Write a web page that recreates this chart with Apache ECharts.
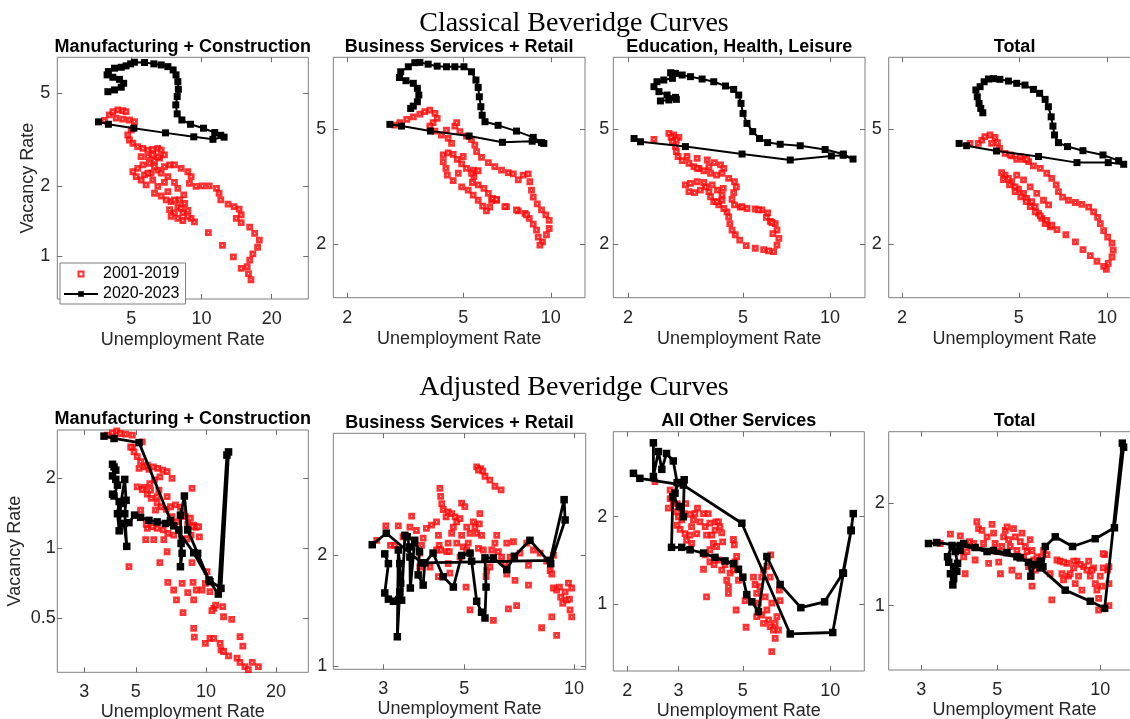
<!DOCTYPE html>
<html>
<head>
<meta charset="utf-8">
<script src="https://cdn.jsdelivr.net/npm/echarts@6.0.0/dist/echarts.min.js"></script>
<style>
  html, body { margin: 0; padding: 0; background: #fff; }
  #chart { width: 1130px; height: 719px; }
</style>
</head>
<body>
<div id="chart"></div>
<script>
// ---- data: [unemployment rate, vacancy rate] ----

// Classical, Manufacturing + Construction
const classicMcPre = [[3.84,3.82],[4.03,4.04],[4.17,4.17],[4.38,4.24],[4.60,4.21],[4.75,4.17],[4.31,3.91],[4.60,3.87],[4.91,3.84],[5.16,3.78],[5.00,3.48],[4.83,3.31],[4.91,3.15],[5.08,3.05],[5.33,2.95],[5.61,2.90],[5.89,2.85],[6.18,2.87],[6.50,2.90],[6.72,2.85],[6.94,2.72],[6.61,2.63],[6.29,2.57],[5.98,2.50],[5.61,2.46],[5.33,2.38],[5.08,2.30],[5.25,2.19],[5.51,2.12],[5.79,2.02],[5.70,2.23],[6.08,2.27],[6.50,2.34],[6.94,2.42],[7.30,2.46],[7.66,2.46],[8.18,2.38],[8.74,2.30],[9.03,2.19],[8.88,2.05],[9.48,1.99],[10.1,2.00],[10.8,2.00],[11.6,1.95],[11.9,1.86],[12.1,1.74],[13.0,1.67],[13.8,1.63],[14.5,1.59],[14.8,1.50],[14.1,1.45],[14.8,1.39],[16.1,1.33],[16.9,1.25],[17.7,1.17],[17.4,1.09],[16.6,1.02],[16.1,0.96],[15.7,0.90],[15.9,0.84],[16.3,0.79],[14.8,0.885],[13.7,0.99],[12.3,1.11],[10.7,1.26],[9.33,1.40],[9.03,1.45],[8.74,1.57],[8.32,1.53],[7.92,1.63],[7.66,1.53],[7.30,1.58],[7.41,1.71],[7.06,1.74],[6.72,1.81],[6.29,1.86],[6.50,1.99],[7.18,1.89],[7.41,1.48],[7.92,1.45],[8.32,1.42],[6.94,2.07],[6.18,2.12],[5.89,2.27],[6.29,2.42],[6.72,2.27],[7.18,2.19],[7.66,2.07],[7.92,1.95],[8.40,1.83],[8.47,1.68],[8.05,1.74],[7.66,1.74],[8.18,1.60],[8.74,1.48],[5.89,2.67],[6.18,2.72],[5.51,2.67],[6.50,2.67]];
const classicMcPost = [[3.62,3.77],[3.99,3.68],[5.13,3.54],[7.01,3.38],[9.27,3.25],[11.2,3.17],[12.5,3.24],[12.1,3.30],[11.4,3.39],[10.2,3.54],[8.97,3.68],[8.24,3.84],[7.87,4.08],[7.76,4.46],[7.87,4.84],[7.96,5.20],[7.92,5.61],[7.78,6.00],[7.56,6.30],[7.18,6.51],[6.72,6.62],[6.25,6.69],[5.70,6.78],[5.16,6.80],[4.97,6.69],[4.75,6.56],[4.53,6.47],[4.24,6.41],[3.99,6.20],[3.94,6.00],[4.17,5.86],[4.45,5.74],[4.64,5.52],[4.53,5.31],[4.24,5.17],[3.97,5.08]];

// Classical, Business Services + Retail
const classicBsPre = [[2.91,5.16],[3.03,5.26],[3.20,5.40],[3.37,5.51],[3.55,5.63],[3.69,5.74],[3.84,5.81],[4.00,5.66],[4.07,5.44],[3.94,5.26],[3.84,5.12],[4.00,4.92],[4.21,4.77],[4.44,4.64],[4.56,4.46],[4.38,4.96],[4.68,5.12],[4.75,5.26],[4.87,4.90],[5.13,4.73],[5.34,4.60],[5.48,4.40],[5.56,4.18],[5.78,3.99],[6.10,3.83],[6.42,3.71],[6.77,3.61],[7.14,3.54],[7.43,3.50],[7.73,3.34],[8.03,3.47],[8.36,3.50],[8.47,3.29],[8.58,3.08],[8.70,2.91],[8.98,2.76],[9.29,2.63],[9.61,2.53],[9.87,2.42],[9.87,2.27],[9.66,2.16],[9.36,2.04],[9.17,1.99],[9.05,2.12],[8.93,2.24],[8.70,2.35],[8.43,2.46],[8.15,2.56],[7.73,2.61],[7.04,2.70],[6.51,2.84],[6.26,2.84],[6.17,2.69],[6.01,2.61],[5.83,2.71],[5.63,2.84],[5.41,2.96],[5.20,3.08],[4.94,3.16],[4.62,3.32],[4.41,3.47],[4.36,3.66],[4.27,3.86],[4.27,4.07],[4.44,4.14],[4.62,4.09],[4.77,3.93],[4.94,3.79],[5.13,3.66],[5.41,3.61],[5.63,3.59],[5.44,3.43],[5.38,3.27],[5.63,3.21],[5.89,3.12],[6.10,3.00],[6.31,2.88],[6.51,2.86],[6.95,2.70],[7.62,2.63],[8.25,2.53],[5.00,4.02],[5.34,3.52],[4.81,3.52]];
const classicBsPost = [[2.80,5.19],[3.07,5.12],[3.86,4.92],[5.24,4.73],[6.82,4.50],[8.63,4.54],[9.46,4.46],[9.29,4.49],[8.70,4.68],[7.62,4.92],[6.59,5.15],[5.94,5.30],[5.81,5.58],[5.75,5.97],[5.68,6.46],[5.63,6.96],[5.53,7.38],[5.34,7.88],[5.03,8.20],[4.68,8.20],[4.38,8.20],[4.07,8.24],[3.79,8.37],[3.55,8.49],[3.41,8.47],[3.24,8.20],[3.05,7.88],[3.02,7.53],[3.18,7.34],[3.37,7.19],[3.48,6.91],[3.52,6.55],[3.48,6.21],[3.37,6.00],[3.30,5.89]];

// Classical, Education, Health, Leisure
const classicEhlPre = [[2.46,4.61],[2.77,4.83],[2.88,4.77],[3.00,4.68],[2.94,4.58],[2.82,4.68],[2.85,4.52],[2.92,4.35],[2.94,4.18],[2.98,4.02],[3.08,3.89],[3.25,3.81],[3.38,3.71],[3.52,3.66],[3.66,3.59],[3.20,4.02],[3.47,3.96],[3.76,3.91],[3.98,3.83],[4.18,3.76],[4.29,3.66],[4.23,3.52],[4.05,3.47],[3.86,3.52],[4.46,3.38],[4.67,3.29],[4.74,3.16],[4.64,3.02],[4.58,2.86],[4.67,2.74],[4.89,2.69],[5.16,2.66],[5.51,2.65],[5.81,2.63],[6.08,2.57],[6.02,2.48],[6.21,2.40],[6.46,2.36],[6.55,2.24],[6.65,2.10],[6.55,1.99],[6.38,1.89],[6.13,1.90],[5.89,1.92],[5.51,1.94],[5.13,1.98],[4.87,2.07],[4.70,2.16],[4.58,2.24],[4.50,2.36],[4.46,2.49],[4.40,2.59],[4.29,2.66],[4.12,2.74],[3.96,2.81],[3.86,2.92],[3.81,3.04],[3.71,3.16],[3.56,3.08],[3.40,3.02],[3.25,3.04],[3.16,3.21],[3.29,3.25],[3.47,3.29],[3.66,3.27],[3.91,3.21],[4.08,3.08],[4.23,2.96],[4.23,2.84],[4.06,2.81],[4.27,3.12],[4.96,2.70],[5.66,2.63],[6.29,2.38],[6.34,2.18],[3.47,3.66],[3.81,3.71]];
const classicEhlPost = [[2.10,4.64],[2.21,4.52],[3.16,4.35],[4.96,4.10],[7.28,3.91],[10.1,4.04],[11.1,4.06],[12.0,3.94],[11.1,4.10],[9.61,4.25],[7.88,4.38],[6.72,4.43],[6.08,4.49],[5.70,4.64],[5.40,4.90],[5.16,5.23],[5.00,5.66],[4.92,6.13],[4.83,6.55],[4.64,6.85],[4.35,7.04],[3.96,7.28],[3.61,7.44],[3.29,7.58],[3.08,7.68],[2.92,7.78],[2.81,7.82],[2.85,7.48],[2.66,7.38],[2.52,7.28],[2.46,7.00],[2.56,6.73],[2.73,6.55],[2.92,6.43],[2.94,6.33],[2.77,6.30],[2.59,6.25]];

// Classical, Total
const classicTotPre = [[3.41,4.46],[3.64,4.46],[3.74,4.58],[3.83,4.71],[3.99,4.77],[4.15,4.68],[4.23,4.49],[4.30,4.29],[4.04,4.46],[4.49,4.12],[4.73,4.04],[4.92,3.93],[5.19,3.93],[5.40,3.86],[5.61,3.73],[5.92,3.66],[6.23,3.52],[6.48,3.38],[6.71,3.21],[6.83,3.04],[7.05,2.91],[7.39,2.84],[7.80,2.79],[8.21,2.75],[8.66,2.69],[9.00,2.59],[9.29,2.48],[9.49,2.36],[9.74,2.23],[10.05,2.12],[10.4,2.02],[10.5,1.91],[10.4,1.81],[10.1,1.72],[9.95,1.64],[9.74,1.68],[9.24,1.75],[8.77,1.83],[8.28,1.92],[7.80,2.04],[7.24,2.16],[6.75,2.25],[6.40,2.30],[6.15,2.36],[5.99,2.46],[5.84,2.56],[5.69,2.70],[5.54,2.81],[5.32,2.88],[5.19,3.00],[4.99,3.10],[4.86,3.16],[4.73,3.29],[4.61,3.38],[4.49,3.47],[4.37,3.54],[4.43,3.35],[4.65,3.21],[4.86,3.04],[5.08,2.92],[5.30,2.81],[5.47,2.70],[5.69,2.59],[5.92,2.51],[6.23,2.42],[6.48,2.33],[4.67,4.07],[5.05,4.02],[5.32,3.93],[4.92,3.47],[5.19,3.34],[5.47,3.16],[5.76,3.00],[6.07,2.84],[6.32,2.74]];
const classicTotPost = [[3.13,4.46],[3.32,4.38],[4.20,4.20],[5.84,4.02],[7.90,3.83],[10.1,3.83],[11.4,3.78],[10.96,3.89],[9.69,4.07],[8.28,4.21],[7.33,4.35],[6.83,4.49],[6.62,4.77],[6.54,5.12],[6.45,5.51],[6.31,5.97],[6.15,6.33],[5.89,6.64],[5.61,6.85],[5.25,7.09],[4.92,7.19],[4.61,7.32],[4.31,7.42],[4.10,7.46],[3.94,7.44],[3.81,7.28],[3.69,7.00],[3.57,6.82],[3.61,6.46],[3.66,6.13],[3.71,5.89],[3.77,5.69]];

// Adjusted, Manufacturing + Construction
const adjMcPre = [[3.78,3.07],[3.97,3.14],[4.14,3.20],[4.28,3.12],[4.52,3.10],[4.83,3.07],[5.33,2.87],[4.83,2.72],[4.91,2.60],[5.07,2.48],[5.24,2.36],[5.45,2.24],[5.69,2.19],[5.94,2.24],[6.21,2.21],[6.53,2.17],[6.81,2.14],[7.15,2.00],[6.34,2.03],[6.01,1.97],[5.74,1.90],[5.42,1.83],[5.07,1.84],[5.33,1.79],[5.60,1.71],[5.82,1.64],[6.17,1.57],[6.42,1.51],[6.75,1.47],[7.04,1.51],[7.40,1.54],[7.77,1.50],[7.97,1.44],[8.16,1.37],[8.57,1.35],[8.35,1.27],[8.86,1.26],[9.06,1.23],[9.37,1.12],[8.63,1.14],[8.29,1.10],[7.90,1.09],[7.27,1.14],[6.86,1.16],[6.55,1.20],[6.17,1.22],[5.88,1.24],[5.60,1.22],[5.24,1.46],[5.54,1.27],[5.51,1.09],[5.97,1.09],[6.59,1.09],[6.81,0.967],[6.34,0.868],[6.86,0.714],[7.27,0.662],[7.47,0.60],[7.90,0.707],[8.35,0.645],[7.97,0.529],[8.86,0.60],[8.71,0.868],[8.80,0.714],[9.09,0.662],[9.62,0.662],[10.1,0.794],[9.94,0.707],[10.4,0.651],[10.8,0.552],[11.0,0.57],[10.6,0.54],[11.8,0.562],[11.9,0.508],[12.9,0.495],[8.86,0.453],[8.91,0.415],[9.94,0.39],[10.4,0.41],[10.8,0.41],[11.5,0.39],[11.6,0.366],[11.9,0.36],[12.5,0.345],[13.6,0.337],[14.0,0.323],[14.7,0.31],[15.2,0.301],[15.8,0.323],[16.8,0.31],[14.0,0.417],[14.4,0.38],[4.67,0.834],[5.16,2.21],[5.60,2.28],[4.75,2.73],[5.78,1.78],[6.28,1.78],[6.07,1.46],[7.15,1.37],[7.52,1.30],[8.71,1.24],[8.71,1.81],[9.30,1.24],[6.81,1.67],[6.17,1.67]];
const adjMcPost = [[3.65,3.04],[4.03,2.97],[5.16,2.85],[7.04,1.32],[8.86,0.958],[10.4,0.719],[11.3,0.636],[12.3,2.52],[12.5,2.60],[11.6,0.673],[10.3,0.731],[9.21,0.952],[8.35,1.20],[8.08,1.68],[7.77,1.39],[7.82,1.05],[7.77,0.834],[7.90,0.952],[7.64,1.20],[7.27,1.25],[6.70,1.28],[6.17,1.30],[5.69,1.32],[5.24,1.36],[4.94,1.39],[4.67,1.29],[4.45,1.28],[4.57,1.02],[4.48,1.41],[4.54,1.61],[4.48,1.98],[4.31,1.56],[4.24,1.19],[4.17,1.41],[4.24,1.59],[4.03,1.68],[3.97,1.71],[4.17,1.87],[4.10,1.98],[3.97,2.05],[4.10,2.17],[4.03,2.24],[3.97,2.30]];

// Adjusted, Business Services + Retail
const adjBsPre = [[2.88,2.20],[3.05,2.41],[3.14,2.13],[3.30,2.41],[3.23,2.13],[3.40,2.25],[3.59,2.56],[3.70,2.34],[3.78,2.03],[3.82,2.13],[3.78,1.86],[3.86,2.23],[3.94,2.37],[4.03,1.86],[4.07,2.42],[4.20,2.47],[4.25,2.27],[4.27,2.13],[4.31,2.07],[4.25,1.75],[4.29,3.05],[4.31,2.90],[4.34,2.77],[4.38,2.67],[4.46,2.55],[4.52,2.63],[4.62,2.60],[4.72,2.55],[4.77,2.47],[4.67,2.39],[4.62,2.30],[4.52,2.16],[4.48,2.05],[4.52,1.90],[4.57,1.79],[4.87,2.52],[4.92,2.78],[5.02,2.72],[5.08,2.39],[5.19,2.30],[5.13,2.16],[4.97,2.11],[4.92,2.27],[4.87,1.98],[5.06,1.64],[5.19,1.42],[5.30,2.47],[5.35,2.39],[5.41,2.30],[5.50,2.44],[5.52,2.60],[5.58,2.27],[5.47,2.09],[5.64,2.07],[5.76,1.82],[5.74,1.75],[5.88,1.86],[5.95,2.07],[6.07,2.16],[6.14,2.27],[6.01,1.33],[6.20,2.05],[6.33,1.98],[6.47,1.90],[6.54,1.78],[6.68,1.98],[6.89,1.71],[6.61,1.43],[6.96,1.46],[7.11,2.03],[7.42,2.16],[7.50,1.88],[7.50,1.66],[7.74,2.07],[8.07,2.03],[8.15,1.27],[8.41,1.93],[8.60,1.82],[8.69,1.78],[8.78,1.63],[8.96,1.61],[9.12,1.64],[9.19,1.54],[9.31,1.48],[9.45,1.59],[9.65,1.68],[9.85,1.63],[9.75,1.42],[9.55,1.51],[8.96,1.21],[8.69,1.36],[9.71,1.52],[9.85,1.36],[8.78,2.00],[5.41,3.49],[5.55,3.45],[5.70,3.29],[5.88,3.21],[6.07,3.09],[6.31,3.02],[5.62,3.40],[5.47,3.42],[4.55,2.05],[4.77,2.16],[5.08,2.07],[4.20,2.07],[6.82,2.18],[6.54,2.16],[3.55,2.39]];
const adjBsPost = [[2.80,2.14],[3.06,2.30],[3.82,1.91],[8.60,1.94],[9.39,2.84],[9.45,2.50],[8.63,1.90],[7.57,2.20],[6.86,1.99],[6.54,1.83],[6.01,1.97],[5.70,1.97],[5.74,1.64],[5.70,1.35],[5.58,1.40],[5.41,1.50],[5.24,1.93],[5.19,2.03],[4.92,2.00],[4.67,1.64],[4.38,1.75],[4.11,2.03],[3.90,1.91],[3.86,1.66],[3.74,1.77],[3.77,2.05],[3.66,2.20],[3.56,1.63],[3.55,1.98],[3.54,2.11],[3.49,2.25],[3.44,2.27],[3.37,1.51],[3.35,1.68],[3.33,1.90],[3.30,2.07],[3.28,1.20],[3.33,1.59],[3.20,1.50],[3.10,1.52],[3.03,1.58],[3.10,1.90],[3.03,2.02]];

// Adjusted, All Other Services
const adjOthPre = [[2.49,2.64],[2.81,2.31],[2.77,2.14],[2.81,2.47],[2.88,2.25],[2.97,2.22],[2.97,2.08],[3.00,2.00],[2.97,1.87],[3.04,1.81],[3.08,1.95],[3.14,2.05],[3.18,2.22],[3.16,1.75],[3.20,1.66],[3.29,1.73],[3.33,1.85],[3.38,1.95],[3.42,2.05],[3.49,2.14],[3.29,2.04],[3.33,1.62],[3.47,1.75],[3.56,1.92],[3.66,2.05],[3.71,1.85],[3.75,1.73],[3.80,2.05],[3.85,1.90],[3.91,1.73],[3.96,1.62],[4.01,1.80],[4.04,1.92],[4.12,1.92],[4.17,1.85],[4.23,1.76],[4.26,1.64],[4.06,1.58],[3.85,1.54],[3.71,1.48],[3.66,1.32],[3.75,1.06],[3.85,1.40],[3.98,1.37],[4.12,1.42],[4.23,1.31],[4.34,1.37],[4.40,1.21],[4.46,1.15],[4.46,1.09],[4.52,1.28],[4.64,1.31],[4.70,1.40],[4.76,1.46],[4.67,1.60],[4.64,1.67],[4.83,1.21],[4.74,0.956],[5.09,1.03],[5.13,0.834],[5.44,1.24],[5.51,1.17],[5.58,1.09],[5.66,1.01],[5.73,1.15],[5.81,1.24],[5.89,1.31],[6.05,1.35],[6.24,1.48],[5.97,1.06],[6.05,0.956],[6.13,0.884],[6.21,0.838],[6.46,0.86],[6.55,0.907],[6.29,1.01],[5.89,0.86],[5.81,0.919],[6.37,0.816],[6.29,0.688],[6.46,0.764],[6.63,0.816],[6.72,1.03],[6.68,1.12],[6.21,1.24],[5.58,0.907]];
const adjOthPost = [[2.10,2.82],[2.21,2.71],[3.12,2.57],[4.96,1.90],[7.28,0.791],[10.2,0.80],[11.1,1.28],[11.8,1.79],[12.0,2.05],[11.8,1.80],[11.05,1.28],[9.56,1.02],[7.92,0.974],[6.72,1.17],[6.05,1.46],[5.66,0.944],[5.37,1.02],[5.16,1.08],[5.00,1.24],[4.83,1.32],[4.64,1.38],[4.34,1.41],[4.01,1.45],[3.66,1.50],[3.29,1.54],[3.08,1.57],[2.84,1.57],[2.87,2.34],[3.02,2.17],[3.12,2.00],[3.14,2.68],[3.00,2.62],[2.92,2.41],[2.97,2.62],[2.88,3.11],[2.73,3.30],[2.63,2.91],[2.56,3.35],[2.46,2.75],[2.46,3.59]];

// Adjusted, Total
const adjTotPre = [[3.41,1.52],[3.65,1.62],[3.81,1.49],[3.90,1.60],[3.99,1.39],[4.03,1.24],[4.08,1.44],[4.15,1.54],[4.27,1.52],[4.31,1.36],[4.36,1.76],[4.41,1.68],[4.51,1.66],[4.56,1.52],[4.67,1.59],[4.72,1.33],[4.83,1.73],[4.88,1.63],[4.93,1.52],[4.99,1.44],[5.05,1.34],[5.11,1.24],[5.16,1.49],[5.22,1.59],[5.28,1.66],[5.34,1.70],[5.40,1.56],[5.46,1.49],[5.52,1.27],[5.58,1.68],[5.65,1.59],[5.71,1.45],[5.77,1.22],[5.84,1.54],[5.91,1.63],[5.97,1.39],[6.04,1.49],[6.11,1.44],[6.17,1.30],[6.24,1.56],[6.32,1.45],[6.39,1.36],[6.46,1.27],[6.53,1.39],[6.32,1.14],[6.75,1.39],[6.83,1.45],[6.99,1.41],[7.14,1.24],[7.22,1.04],[7.47,1.36],[7.64,1.35],[7.73,1.24],[7.81,1.19],[7.99,1.33],[8.08,1.22],[8.17,1.24],[8.36,1.29],[8.45,1.16],[8.55,1.35],[8.64,1.22],[8.84,1.11],[8.94,1.30],[9.14,1.27],[9.35,1.22],[9.56,1.29],[9.67,1.16],[9.78,1.11],[9.89,1.05],[10.0,1.22],[10.1,1.14],[10.3,1.41],[10.5,1.27],[10.6,1.16],[10.6,1.00],[9.89,0.971],[9.46,1.27],[10.2,1.29],[9.25,1.35],[8.74,1.32],[8.36,1.35],[7.81,1.34],[10.2,1.42],[10.6,1.30]];
const adjTotPost = [[3.15,1.52],[3.33,1.53],[3.90,1.50],[4.67,1.44],[5.71,1.39],[6.68,1.29],[7.90,1.11],[9.35,1.03],[10.3,0.982],[11.6,2.99],[11.7,2.91],[11.0,1.69],[9.67,1.57],[8.30,1.49],[7.39,1.59],[6.91,1.49],[6.80,1.30],[6.68,1.35],[6.42,1.32],[6.27,1.22],[6.17,1.34],[5.84,1.38],[5.34,1.43],[4.88,1.45],[4.31,1.48],[3.99,1.52],[3.69,1.50],[3.58,1.39],[3.61,1.34],[3.73,1.30],[3.65,1.24],[3.73,1.20],[3.71,1.15],[3.81,1.26],[3.83,1.33],[3.77,1.44],[3.90,1.45]];

// tick labels
const xTicksClassicMc = [5, 10, 20];
const xTicksClassic = [2, 5, 10];
const yTicksClassicMc = [1, 2, 5];
const yTicksClassic = [2, 5];
const xTicksAdjMc = [3, 5, 10, 20];
const xTicksAdjBs = [3, 5, 10];
const xTicksAdjOth = [2, 3, 5, 10];
const xTicksAdjTot = [3, 5, 10];
const yTicksAdjMc = [0.5, 1, 2];
const yTicksAdj = [1, 2];

const seriesNames = ['2001-2019', '2020-2023'];
const rowTitles = ['Classical Beveridge Curves', 'Adjusted Beveridge Curves'];

// ---- layout ----
const panels = [
  { title: 'Manufacturing + Construction', pre: classicMcPre, post: classicMcPost, xLim: [2.41, 28.7], yLim: [0.653, 7.14], xTicks: xTicksClassicMc, yTicks: yTicksClassicMc, box: [57.3, 57.3, 251, 241.7], yMargin: 7, yName: 'Vacancy Rate', yNameGap: 20, row: 0 },
  { title: 'Business Services + Retail', pre: classicBsPre, post: classicBsPost, xLim: [1.79, 13.1], yLim: [1.31, 8.84], xTicks: xTicksClassic, yTicks: yTicksClassic, box: [333.3, 57.3, 251.7, 240.4], yMargin: 7, row: 0 },
  { title: 'Education, Health, Leisure', pre: classicEhlPre, post: classicEhlPost, xLim: [1.78, 13.2], yLim: [1.31, 8.84], xTicks: xTicksClassic, yTicks: yTicksClassic, box: [613.3, 57.3, 251.7, 240.4], yMargin: 4, row: 0 },
  { title: 'Total', pre: classicTotPre, post: classicTotPost, xLim: [1.80, 13.0], yLim: [1.31, 8.84], xTicks: xTicksClassic, yTicks: yTicksClassic, box: [888.7, 57.3, 251.7, 240.4], yMargin: 7, row: 0 },
  { title: 'Manufacturing + Construction', pre: adjMcPre, post: adjMcPost, xLim: [2.30, 27.5], yLim: [0.293, 3.23], xTicks: xTicksAdjMc, yTicks: yTicksAdjMc, box: [57.3, 430, 251, 242.3], yMargin: 1.5, yName: 'Vacancy Rate', yNameGap: 33, row: 1 },
  { title: 'Business Services + Retail', pre: adjBsPre, post: adjBsPost, xLim: [2.19, 10.76], yLim: [0.978, 4.31], xTicks: xTicksAdjBs, yTicks: yTicksAdj, box: [333.3, 433.3, 252.4, 236], yMargin: 6, row: 1 },
  { title: 'All Other Services', pre: adjOthPre, post: adjOthPost, xLim: [1.79, 13.1], yLim: [0.59, 3.92], xTicks: xTicksAdjOth, yTicks: yTicksAdj, box: [613.3, 431.7, 251, 239.3], yMargin: 6, row: 1 },
  { title: 'Total', pre: adjTotPre, post: adjTotPost, xLim: [2.41, 13.1], yLim: [0.648, 3.23], xTicks: xTicksAdjTot, yTicks: yTicksAdj, box: [888.7, 431.7, 251.7, 238.3], yMargin: 4, row: 1 }
];

const SANS = '"Liberation Sans", Arial, Helvetica, sans-serif';
const SERIF = '"Liberation Serif", "DejaVu Serif", serif';
const lg = v => Math.log10(v);
const toLog = p => [lg(p[0]), lg(p[1])];
const fmt = v => String(Math.round(Math.pow(10, v) * 100) / 100);
const labelText = { fontSize: 18, fontFamily: SANS, color: '#262626' };
// small square in the middle of the legend slot (zero-length moves keep the slot width)
const squareIcon = 'path://M0 0L0 0M34 7L34 7M14.5 1H19.5V6H14.5Z';

const chart = echarts.init(document.getElementById('chart'), null, { renderer: 'canvas' });

const grid = [], xAxis = [], yAxis = [], series = [];
const graphic = [
  { type: 'text', x: 574, y: 24, silent: true, style: { text: rowTitles[0], fill: '#000', font: '28px ' + SERIF, align: 'center', verticalAlign: 'middle' } },
  { type: 'text', x: 574, y: 387.5, silent: true, style: { text: rowTitles[1], fill: '#000', font: '28px ' + SERIF, align: 'center', verticalAlign: 'middle' } }
];

panels.forEach((p, i) => {
  const [left, top, width, height] = p.box;
  grid.push({ left, top, width, height, show: true, borderColor: '#7f7f7f', borderWidth: 1, containLabel: false, outerBoundsMode: 'none' });

  const xt = p.xTicks.map(lg), yt = p.yTicks.map(lg);
  const tick = vals => ({ show: true, inside: true, length: 5, customValues: vals, lineStyle: { color: '#6b6b6b', width: 1 } });
  const base = { gridIndex: i, type: 'value', splitLine: { show: false }, axisLine: { show: false, onZero: false } };
  const xr = { min: lg(p.xLim[0]), max: lg(p.xLim[1]) };
  const yr = { min: lg(p.yLim[0]), max: lg(p.yLim[1]) };

  xAxis.push({ ...base, ...xr, position: 'bottom', axisTick: tick(xt),
    axisLabel: { customValues: xt, formatter: fmt, margin: 11, ...labelText },
    name: 'Unemployment Rate', nameLocation: 'middle', nameGap: p.row ? 31 : 32, nameMoveOverlap: false, nameTextStyle: labelText });
  xAxis.push({ ...base, ...xr, position: 'top', axisTick: tick(xt), axisLabel: { show: false } });
  yAxis.push({ ...base, ...yr, position: 'left', axisTick: tick(yt),
    axisLabel: { customValues: yt, formatter: fmt, margin: p.yMargin, ...labelText },
    name: p.yName || '', nameLocation: 'middle', nameGap: p.yNameGap || 20, nameMoveOverlap: false, nameTextStyle: labelText });
  yAxis.push({ ...base, ...yr, position: 'right', axisTick: tick(yt), axisLabel: { show: false } });

  series.push({
    type: 'scatter', name: seriesNames[0], xAxisIndex: 2 * i, yAxisIndex: 2 * i,
    data: p.pre.map(toLog), symbol: 'rect', symbolSize: 4,
    itemStyle: { color: '#ffe6e6', borderColor: '#ff0000', borderWidth: 2.8 },
    emphasis: { disabled: true }, silent: true, z: 2
  });
  series.push({
    type: 'line', name: seriesNames[1], xAxisIndex: 2 * i, yAxisIndex: 2 * i,
    data: p.post.map(toLog), symbol: 'rect', symbolSize: p.row ? 7.5 : 7, showSymbol: true,
    itemStyle: { color: '#000' }, lineStyle: { color: '#000', width: p.row ? 2.8 : 2 },
    emphasis: { disabled: true }, silent: true, z: 3
  });

  graphic.push({ type: 'text', x: left + width / 2, y: top - 10.5, silent: true,
    style: { text: p.title, fill: '#000', font: 'bold 18px ' + SANS, align: 'center', verticalAlign: 'middle' } });
});

chart.setOption({
  animation: false,
  backgroundColor: '#fff',
  grid, xAxis, yAxis, series, graphic,
  legend: {
    data: [{ name: seriesNames[0], icon: squareIcon }, { name: seriesNames[1] }],
    orient: 'vertical', left: 60, top: 263,
    itemWidth: 34, itemHeight: 7, itemGap: 4, padding: [3, 6, 2, 3],
    borderColor: '#7f7f7f', borderWidth: 1, borderRadius: 0, backgroundColor: '#fff',
    textStyle: { fontSize: 16, fontFamily: SANS, color: '#000' },
    selectedMode: false, z: 10
  }
});
</script>
</body>
</html>
